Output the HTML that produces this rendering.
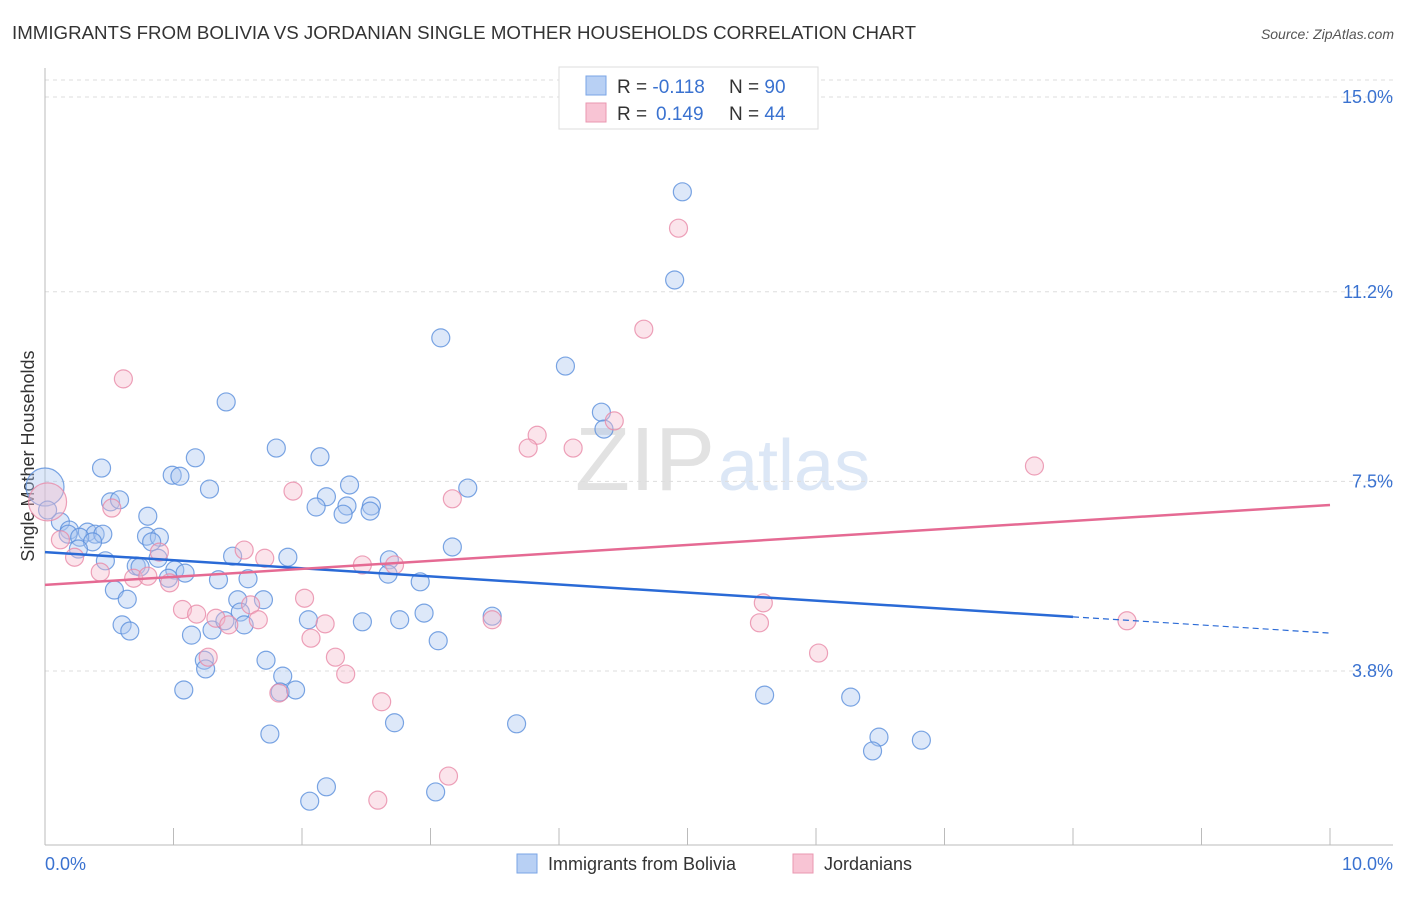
<!DOCTYPE html>
<html><head><meta charset="utf-8"><style>
body{margin:0;background:#fff;font-family:"Liberation Sans",sans-serif}
svg text{font-family:"Liberation Sans",sans-serif}
</style></head><body>
<svg id="c" width="1406" height="892" xmlns="http://www.w3.org/2000/svg">
<text x="12" y="39" font-size="18" fill="#333" textLength="904" lengthAdjust="spacingAndGlyphs">IMMIGRANTS FROM BOLIVIA VS JORDANIAN SINGLE MOTHER HOUSEHOLDS CORRELATION CHART</text>
<text x="1394" y="39" font-size="14" fill="#555" text-anchor="end" font-style="italic">Source: ZipAtlas.com</text>
<text x="34" y="456" font-size="18" fill="#333" text-anchor="middle" transform="rotate(-90 34 456)">Single Mother Households</text>
<text x="715" y="490" font-size="90" fill="#e2e2e2" text-anchor="end" font-family="Liberation Serif">ZIP</text>
<text x="718" y="490" font-size="72" fill="#dce7f6">atlas</text>
<g id="grid"></g><g id="axes"></g><g id="pts"></g><g id="lines"></g>
<g>
<rect x="559" y="67" width="259" height="62" fill="#fff" stroke="#ddd"/>
<rect x="586" y="76" width="20" height="19" fill="#b8d0f4" stroke="#7aa5e6"/>
<rect x="586" y="103" width="20" height="19" fill="#f8c4d4" stroke="#ea97b0"/>
<text x="617" y="93" font-size="19" fill="#333">R = <tspan fill="#3a72d0">-0.118</tspan><tspan x="729">N = </tspan><tspan fill="#3a72d0">90</tspan></text>
<text x="617" y="120" font-size="19" fill="#333">R = <tspan fill="#3a72d0" x="656">0.149</tspan><tspan x="729">N = </tspan><tspan fill="#3a72d0">44</tspan></text>
</g>
<g>
<rect x="517" y="854" width="20" height="19" fill="#b8d0f4" stroke="#7aa5e6"/>
<text x="548" y="870" font-size="18" fill="#333">Immigrants from Bolivia</text>
<rect x="793" y="854" width="20" height="19" fill="#f8c4d4" stroke="#ea97b0"/>
<text x="824" y="870" font-size="18" fill="#333">Jordanians</text>
</g>
</svg>
<script>
const yTicks=[15.0,11.2,7.5,3.8];
const yTickLabels=["15.0%","11.2%","7.5%","3.8%"];
const xTickLabels=["0.0%","10.0%"];
const blueX=[4.96,4.90,3.08,4.05,4.33,4.35,1.41,1.80,2.14,0.44,1.17,0.99,1.05,1.28,2.37,3.29,2.19,0.51,0.58,2.11,2.35,2.54,2.32,2.53,0.80,0.12,0.00,0.02,0.19,0.33,0.39,0.45,0.18,0.27,0.37,0.26,0.79,0.89,0.83,1.46,1.89,2.68,3.17,0.47,0.88,0.71,0.74,1.01,1.09,0.96,1.35,1.58,2.67,2.92,0.54,0.64,1.50,1.70,2.05,2.47,2.76,2.95,3.48,1.52,1.55,0.60,0.66,1.14,1.30,1.40,3.06,1.24,1.25,1.72,1.85,1.08,1.83,1.95,5.60,6.27,2.72,3.67,1.75,6.49,6.82,6.44,2.19,2.06,3.04];
const blueY=[13.15,11.43,10.30,9.75,8.85,8.52,9.05,8.15,7.98,7.76,7.96,7.62,7.60,7.35,7.43,7.37,7.20,7.10,7.14,7.00,7.02,7.02,6.86,6.92,6.82,6.71,7.39,6.94,6.55,6.51,6.47,6.47,6.47,6.41,6.32,6.18,6.43,6.41,6.32,6.04,6.02,5.97,6.22,5.95,6.00,5.85,5.83,5.77,5.71,5.61,5.58,5.60,5.69,5.54,5.38,5.20,5.19,5.19,4.80,4.76,4.80,4.93,4.87,4.95,4.70,4.70,4.58,4.50,4.60,4.78,4.39,4.01,3.84,4.01,3.70,3.43,3.39,3.43,3.33,3.29,2.79,2.77,2.57,2.51,2.45,2.24,1.54,1.26,1.44];
const pinkX=[4.93,4.66,0.61,4.43,3.83,3.76,4.11,7.70,1.93,3.17,0.02,0.52,0.12,0.23,0.43,0.89,1.55,1.71,2.72,2.47,0.69,0.80,0.97,1.07,1.18,1.33,1.43,1.60,2.02,2.18,2.07,3.48,5.59,5.56,8.42,1.27,2.26,2.34,1.82,6.02,2.62,3.14,2.59,1.66];
const pinkY=[12.44,10.47,9.50,8.68,8.40,8.15,8.15,7.80,7.31,7.16,7.10,6.98,6.36,6.02,5.73,6.12,6.16,6.00,5.87,5.87,5.61,5.65,5.52,5.00,4.91,4.83,4.70,5.09,5.22,4.72,4.44,4.80,5.13,4.74,4.78,4.07,4.07,3.74,3.37,4.15,3.20,1.75,1.28,4.80];
const blueTrend=[6.12,4.54];
const pinkTrend=[5.48,7.04];
const blueSolidEnd=8.0;
const NS="http://www.w3.org/2000/svg";
const X=v=>45+v*128.5, Y=v=>97+(15-v)*51.25;
function mk(t,a,p){const e=document.createElementNS(NS,t);for(const k in a)e.setAttribute(k,a[k]);p.appendChild(e);return e;}
const g=document.getElementById('grid'),ax=document.getElementById('axes'),pts=document.getElementById('pts'),ln=document.getElementById('lines');
let tg=mk('line',{x1:45,x2:1393,y1:80,y2:80,stroke:'#ddd','stroke-dasharray':'4 4'},g);


yTicks.forEach((v,i)=>{
 const l=mk('line',{x1:45,x2:1393,y1:Y(v),y2:Y(v),stroke:'#ddd','stroke-dasharray':'4 4'},g);
 
 
 const t=mk('text',{x:1393,y:Y(v)+6,'font-size':18,fill:'#3a72d0','text-anchor':'end'},g);
 t.textContent=yTickLabels[i];
 
 
});
let a1=mk('line',{x1:45,x2:45,y1:68,y2:845,stroke:'#bbb'},ax);


let a2=mk('line',{x1:45,x2:1393,y1:845,y2:845,stroke:'#bbb'},ax);


for(let i=0;i<=10;i++){const t=mk('line',{x1:X(i),x2:X(i),y1:828,y2:845,stroke:'#bbb'},ax);
 
 }
[[0,'start'],[10,'end']].forEach((d,i)=>{const t=mk('text',{x:i?1393:45,y:870,'font-size':18,fill:'#3a72d0','text-anchor':d[1]},ax);t.textContent=xTickLabels[i];
 
 });
function dots(xs,ys,fill,stroke,name,bigX){xs.forEach((x,i)=>{const big=(i===bigX);
 const c=mk('circle',{cx:X(x),cy:Y(ys[i]),r:big?19:9,fill:fill,'fill-opacity':0.4,stroke:stroke,'stroke-opacity':0.8,'stroke-width':1.2},pts);
 
 });}
dots(blueX,blueY,'#a9c6f0','#5a8fdc','bolivia-point',26);
dots(pinkX,pinkY,'#f6bccd','#e88aa8','jordanian-point',10);
const bAt=x=>blueTrend[0]+(blueTrend[1]-blueTrend[0])*x/10;
let b1=mk('line',{x1:X(0),y1:Y(bAt(0)),x2:X(blueSolidEnd),y2:Y(bAt(blueSolidEnd)),stroke:'#2a6ad6','stroke-width':2.5},ln);


let b2=mk('line',{x1:X(blueSolidEnd),y1:Y(bAt(blueSolidEnd)),x2:X(10),y2:Y(bAt(10)),stroke:'#2a6ad6','stroke-width':1.2,'stroke-dasharray':'6 4'},ln);


let p1=mk('line',{x1:X(0),y1:Y(pinkTrend[0]),x2:X(10),y2:Y(pinkTrend[1]),stroke:'#e56a93','stroke-width':2.5},ln);


</script>
</body></html>
